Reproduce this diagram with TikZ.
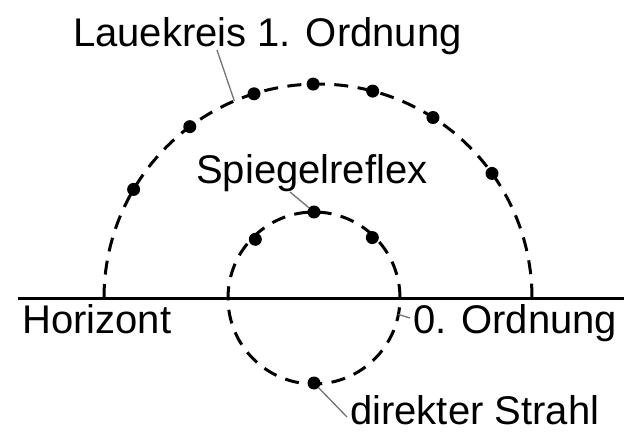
\documentclass[tikz,border=0pt]{standalone}
\usepackage{fontspec}
\setmainfont{Liberation Sans}
\usetikzlibrary{calc}
\begin{document}
\begin{tikzpicture}[x=1pt,y=1pt,
  dot/.style={circle,fill=black,inner sep=0pt,minimum size=13pt},
  dashcircle/.style={line width=3pt,dash pattern=on 14pt off 9.5pt},
  leader/.style={line width=1.3pt,draw=black!55},
  lbl/.style={anchor=base west,inner sep=0pt,font=\fontsize{40}{48}\selectfont}]
\useasboundingbox (0,0) rectangle (626,445);
\coordinate (C) at (318,147);
\coordinate (c) at (314,147);
% horizon
\coordinate (hl) at (18,147);
\coordinate (hr) at (624,147);
\draw[line width=3pt] (hl) -- (hr);
% large Laue arc
\draw[dashcircle] (104,147) arc[start angle=180,end angle=0,radius=214];
% small circle
\draw[dashcircle] (c) circle[radius=86];
% dots on large arc
\foreach \a/\n in {149.5/L1,126.8/L2,107.4/L3,91.3/L4,75.2/L5,57.5/L6,35.6/L7}
  \node[dot] (\n) at ($(C)+(\a:214)$) {};
% dots on small circle
\node[dot] (S1) at ($(c)+(90:86)$) {};
\node[dot] (S2) at ($(c)+(135:83)$) {};
\node[dot] (S3) at ($(c)+(46:84)$) {};
\node[dot] (S4) at ($(c)+(270:85)$) {};
% labels
\node[lbl] (laue) at (73,398) {Lauekreis 1. Ordnung};
\node[lbl] (spiegel) at (196,261) {Spiegelreflex};
\node[lbl] (hor) at (22,112) {Horizont};
\node[lbl] (null) at (413,112) {0. Ordnung};
\node[lbl] (dir) at (350,21) {direkter Strahl};
% leader lines
\coordinate (lauepoint) at ($(C)+(113:214)$);
\coordinate (nullpoint) at ($(c)+(-11:86)$);
\coordinate (lauestart) at (217,395);
\coordinate (spstart) at (290,253);
\coordinate (nullend) at (410,127);
\coordinate (dirend) at (347,28);
\draw[leader] (lauestart) -- (lauepoint);
\draw[leader] (spstart) -- (S1);
\draw[leader] (nullpoint) -- (nullend);
\draw[leader] (S4) -- (dirend);
\end{tikzpicture}
\end{document}
